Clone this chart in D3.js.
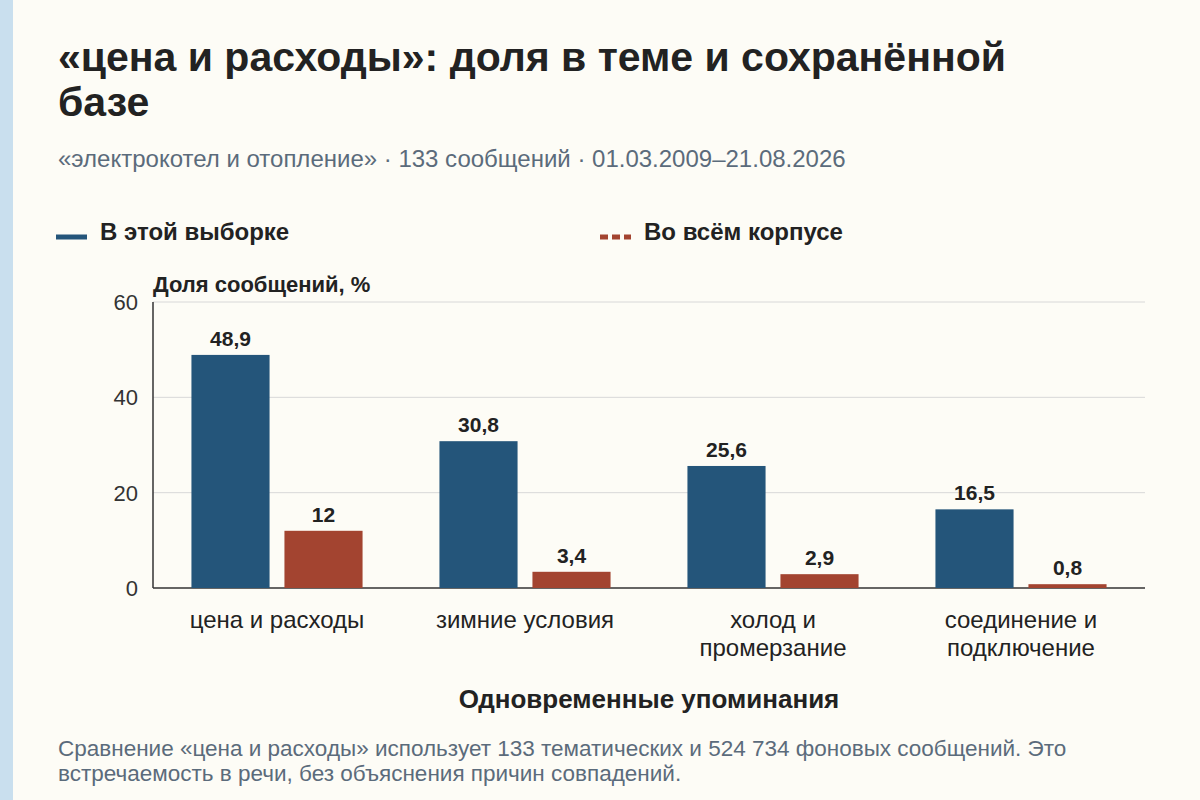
<!DOCTYPE html>
<html><head><meta charset="utf-8">
<script src="https://cdn.jsdelivr.net/npm/d3@7"></script>
<style>body{margin:0;background:#fdfcf6}</style>
</head><body>
<script>
const categories = [["цена и расходы"], ["зимние условия"], ["холод и", "промерзание"], ["соединение и", "подключение"]]
const sample = [48.9, 30.8, 25.6, 16.5]
const corpus = [12, 3.4, 2.9, 0.8]
const labelsSample = ["48,9", "30,8", "25,6", "16,5"]
const labelsCorpus = ["12", "3,4", "2,9", "0,8"]
const yTicks = [0, 20, 40, 60]

const W = 1200, H = 800
const font = "'Liberation Sans', Arial, sans-serif"
const svg = d3.select("body").append("svg").attr("width", W).attr("height", H)
	.style("font-family", font)
svg.append("rect").attr("width", W).attr("height", H).attr("fill", "#fdfcf6")
svg.append("rect").attr("width", 13).attr("height", H).attr("fill", "#c9dfee")

svg.append("text").attr("x", 58).attr("y", 71).attr("font-size", 41).attr("font-weight", "bold").attr("fill", "#222")
	.text("«цена и расходы»: доля в теме и сохранённой")
svg.append("text").attr("x", 58).attr("y", 116).attr("font-size", 41).attr("font-weight", "bold").attr("fill", "#222")
	.text("базе")
svg.append("text").attr("x", 58).attr("y", 167).attr("font-size", 24).attr("fill", "#5b6b7b")
	.text("«электрокотел и отопление» · 133 сообщений · 01.03.2009–21.08.2026")

// legend
svg.append("line").attr("x1", 56).attr("x2", 87).attr("y1", 237).attr("y2", 237)
	.attr("stroke", "#24557a").attr("stroke-width", 5)
svg.append("text").attr("x", 100).attr("y", 240).attr("font-size", 24).attr("font-weight", "bold").attr("fill", "#222").text("В этой выборке")
svg.append("line").attr("x1", 600).attr("x2", 631).attr("y1", 237).attr("y2", 237)
	.attr("stroke", "#a34430").attr("stroke-width", 5).attr("stroke-dasharray", "8,4")
svg.append("text").attr("x", 644).attr("y", 240).attr("font-size", 24).attr("font-weight", "bold").attr("fill", "#222").text("Во всём корпусе")

const x = d3.scaleBand().domain(d3.range(categories.length)).range([153, 1145]).paddingInner(0.31).paddingOuter(0.155)
const xi = d3.scaleBand().domain([0, 1]).range([0, x.bandwidth()]).paddingInner(0.16)
const y = d3.scaleLinear().domain([0, 60]).range([588, 302])

const grid = svg.append("g")
yTicks.forEach(t => {
	grid.append("line").attr("x1", 153).attr("x2", 1145).attr("y1", y(t)).attr("y2", y(t))
		.attr("stroke", t === 0 ? "#333" : "#d8d8d8").attr("stroke-width", t === 0 ? 1.5 : 1)
	grid.append("text").attr("x", 138).attr("y", y(t) + 8).attr("text-anchor", "end")
		.attr("font-size", 22).attr("fill", "#333").text(t)
})
svg.append("line").attr("x1", 153).attr("x2", 153).attr("y1", 302).attr("y2", 588).attr("stroke", "#333").attr("stroke-width", 1.5)
svg.append("text").attr("x", 153).attr("y", 292).attr("font-size", 22).attr("font-weight", "bold").attr("fill", "#222").text("Доля сообщений, %")

const series = [{v: sample, l: labelsSample, c: "#24557a"}, {v: corpus, l: labelsCorpus, c: "#a34430"}]
series.forEach((s, si) => {
	s.v.forEach((v, i) => {
		const bx = x(i) + xi(si)
		svg.append("rect").attr("x", bx).attr("y", y(v)).attr("width", xi.bandwidth())
			.attr("height", y(0) - y(v)).attr("fill", s.c)
		svg.append("text").attr("x", bx + xi.bandwidth() / 2).attr("y", y(v) - 9)
			.attr("text-anchor", "middle").attr("font-size", 21).attr("font-weight", "bold").attr("fill", "#222").text(s.l[i])
	})
})

categories.forEach((lines, i) => {
	lines.forEach((ln, j) => {
		svg.append("text").attr("x", x(i) + x.bandwidth() / 2).attr("y", 628 + j * 28)
			.attr("text-anchor", "middle").attr("font-size", 24).attr("fill", "#222").text(ln)
	})
})
svg.append("text").attr("x", 649).attr("y", 708).attr("text-anchor", "middle").attr("font-size", 26)
	.attr("font-weight", "bold").attr("fill", "#222").text("Одновременные упоминания")

svg.append("text").attr("x", 58).attr("y", 756).attr("font-size", 22.5).attr("fill", "#5b6b7b")
	.text("Сравнение «цена и расходы» использует 133 тематических и 524 734 фоновых сообщений. Это")
svg.append("text").attr("x", 58).attr("y", 781).attr("font-size", 22.5).attr("fill", "#5b6b7b")
	.text("встречаемость в речи, без объяснения причин совпадений.")
</script>
</body></html>
